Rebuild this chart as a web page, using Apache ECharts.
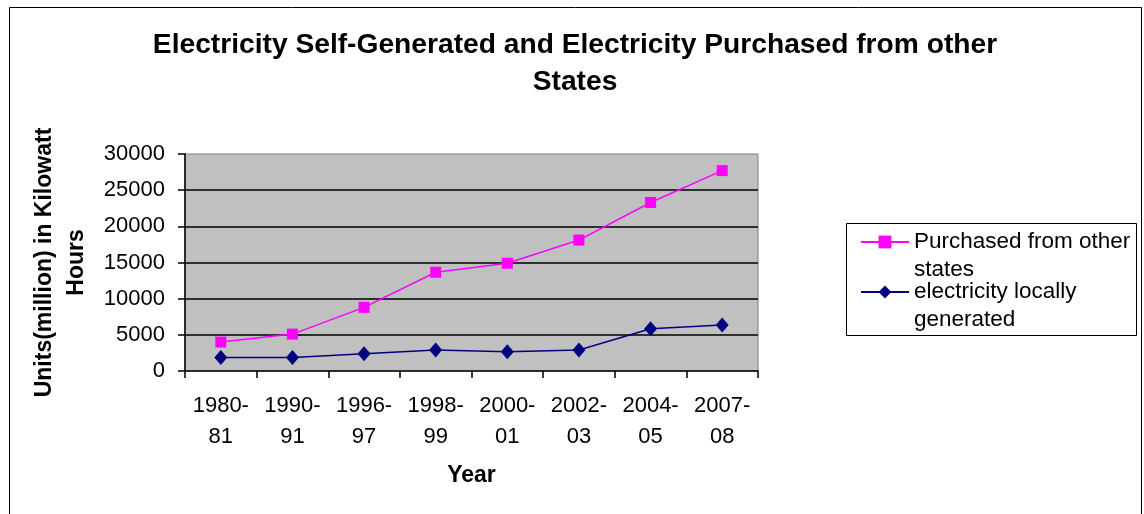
<!DOCTYPE html>
<html>
<head>
<meta charset="utf-8">
<script src="https://cdn.jsdelivr.net/npm/echarts@6/dist/echarts.min.js"></script>
<style>html,body{margin:0;padding:0;background:#fff}#c{width:1144px;height:514px}</style>
</head>
<body>
<div id="c"></div>
<script>
var categories = ['1980-\n81', '1990-\n91', '1996-\n97', '1998-\n99', '2000-\n01', '2002-\n03', '2004-\n05', '2007-\n08'];
var purchased = [4000, 5100, 8800, 13650, 14900, 18100, 23300, 27700];
var localGen = [1850, 1850, 2400, 2900, 2650, 2900, 5850, 6350];
var seriesNames = ['Purchased from other states', 'electricity locally generated'];
var legendLabels = ['Purchased from other\nstates', 'electricity locally\ngenerated'];
var yTicks = { min: 0, max: 30000, interval: 5000 };
var titleText = 'Electricity Self-Generated and Electricity Purchased from other\nStates';
var xName = 'Year';
var yName = 'Units(million) in Kilowatt\nHours';

var FF = '"Liberation Sans", Arial, Helvetica, sans-serif';
var chart = echarts.init(document.getElementById('c'), null, { renderer: 'canvas' });
chart.setOption({
  backgroundColor: '#fff',
  animation: false,
  title: {
    text: titleText,
    left: 575,
    textAlign: 'center',
    top: 26.5,
    padding: 0,
    textStyle: { fontFamily: FF, fontSize: 28.2, fontWeight: 'bold', color: '#000', lineHeight: 37 }
  },
  grid: {
    left: 185, right: 386, top: 154, bottom: 143,
    show: true, backgroundColor: '#C0C0C0', borderColor: '#808080', borderWidth: 1,
    containLabel: false
  },
  legend: {
    orient: 'vertical',
    left: 860, top: 200,
    padding: 0,
    itemGap: -34,
    itemWidth: 48, itemHeight: 16,
    data: seriesNames,
    formatter: function (name) { return '\n' + legendLabels[seriesNames.indexOf(name)]; },
    textStyle: { fontFamily: FF, fontSize: 22.5, color: '#000', lineHeight: 28 }
  },
  graphic: [
    { type: 'rect', shape: { x: 9.5, y: 7.5, width: 1132, height: 520 }, style: { fill: 'none', stroke: '#000', lineWidth: 1 }, silent: true },
    { type: 'rect', shape: { x: 846.5, y: 223.5, width: 290, height: 112 }, style: { fill: 'none', stroke: '#000', lineWidth: 1 }, silent: true }
  ],
  xAxis: {
    type: 'category',
    data: categories,
    boundaryGap: true,
    name: xName,
    nameLocation: 'middle',
    nameGap: 93,
    nameTextStyle: { fontFamily: FF, fontSize: 23, fontWeight: 'bold', color: '#000' },
    axisLine: { lineStyle: { color: '#000', width: 1.5 } },
    axisTick: { show: true, inside: false, length: 7, lineStyle: { color: '#000', width: 1.5 } },
    axisLabel: { interval: 0, margin: 19, fontFamily: FF, fontSize: 22, color: '#000', lineHeight: 31 },
    splitLine: { show: false }
  },
  yAxis: {
    type: 'value',
    min: yTicks.min, max: yTicks.max, interval: yTicks.interval,
    name: yName,
    nameLocation: 'middle',
    nameGap: 76,
    nameTextStyle: { fontFamily: FF, fontSize: 23, fontWeight: 'bold', color: '#000', lineHeight: 32 },
    axisLine: { show: true, lineStyle: { color: '#000', width: 1.5 } },
    axisTick: { show: true, inside: false, length: 7, lineStyle: { color: '#000', width: 1.5 } },
    axisLabel: { margin: 20, fontFamily: FF, fontSize: 22, color: '#000', formatter: function (v) { return String(v); } },
    splitLine: { show: true, showMinLine: false, showMaxLine: false, lineStyle: { color: '#000', width: 1.5 } }
  },
  series: [
    {
      name: seriesNames[0], type: 'line', data: purchased,
      symbol: 'rect', symbolSize: 11,
      lineStyle: { color: '#FF00FF', width: 1.5 },
      itemStyle: { color: '#FF00FF' }
    },
    {
      name: seriesNames[1], type: 'line', data: localGen,
      symbol: 'diamond', symbolSize: [13, 15],
      lineStyle: { color: '#000080', width: 1.5 },
      itemStyle: { color: '#000080' }
    }
  ]
});
</script>
</body>
</html>
